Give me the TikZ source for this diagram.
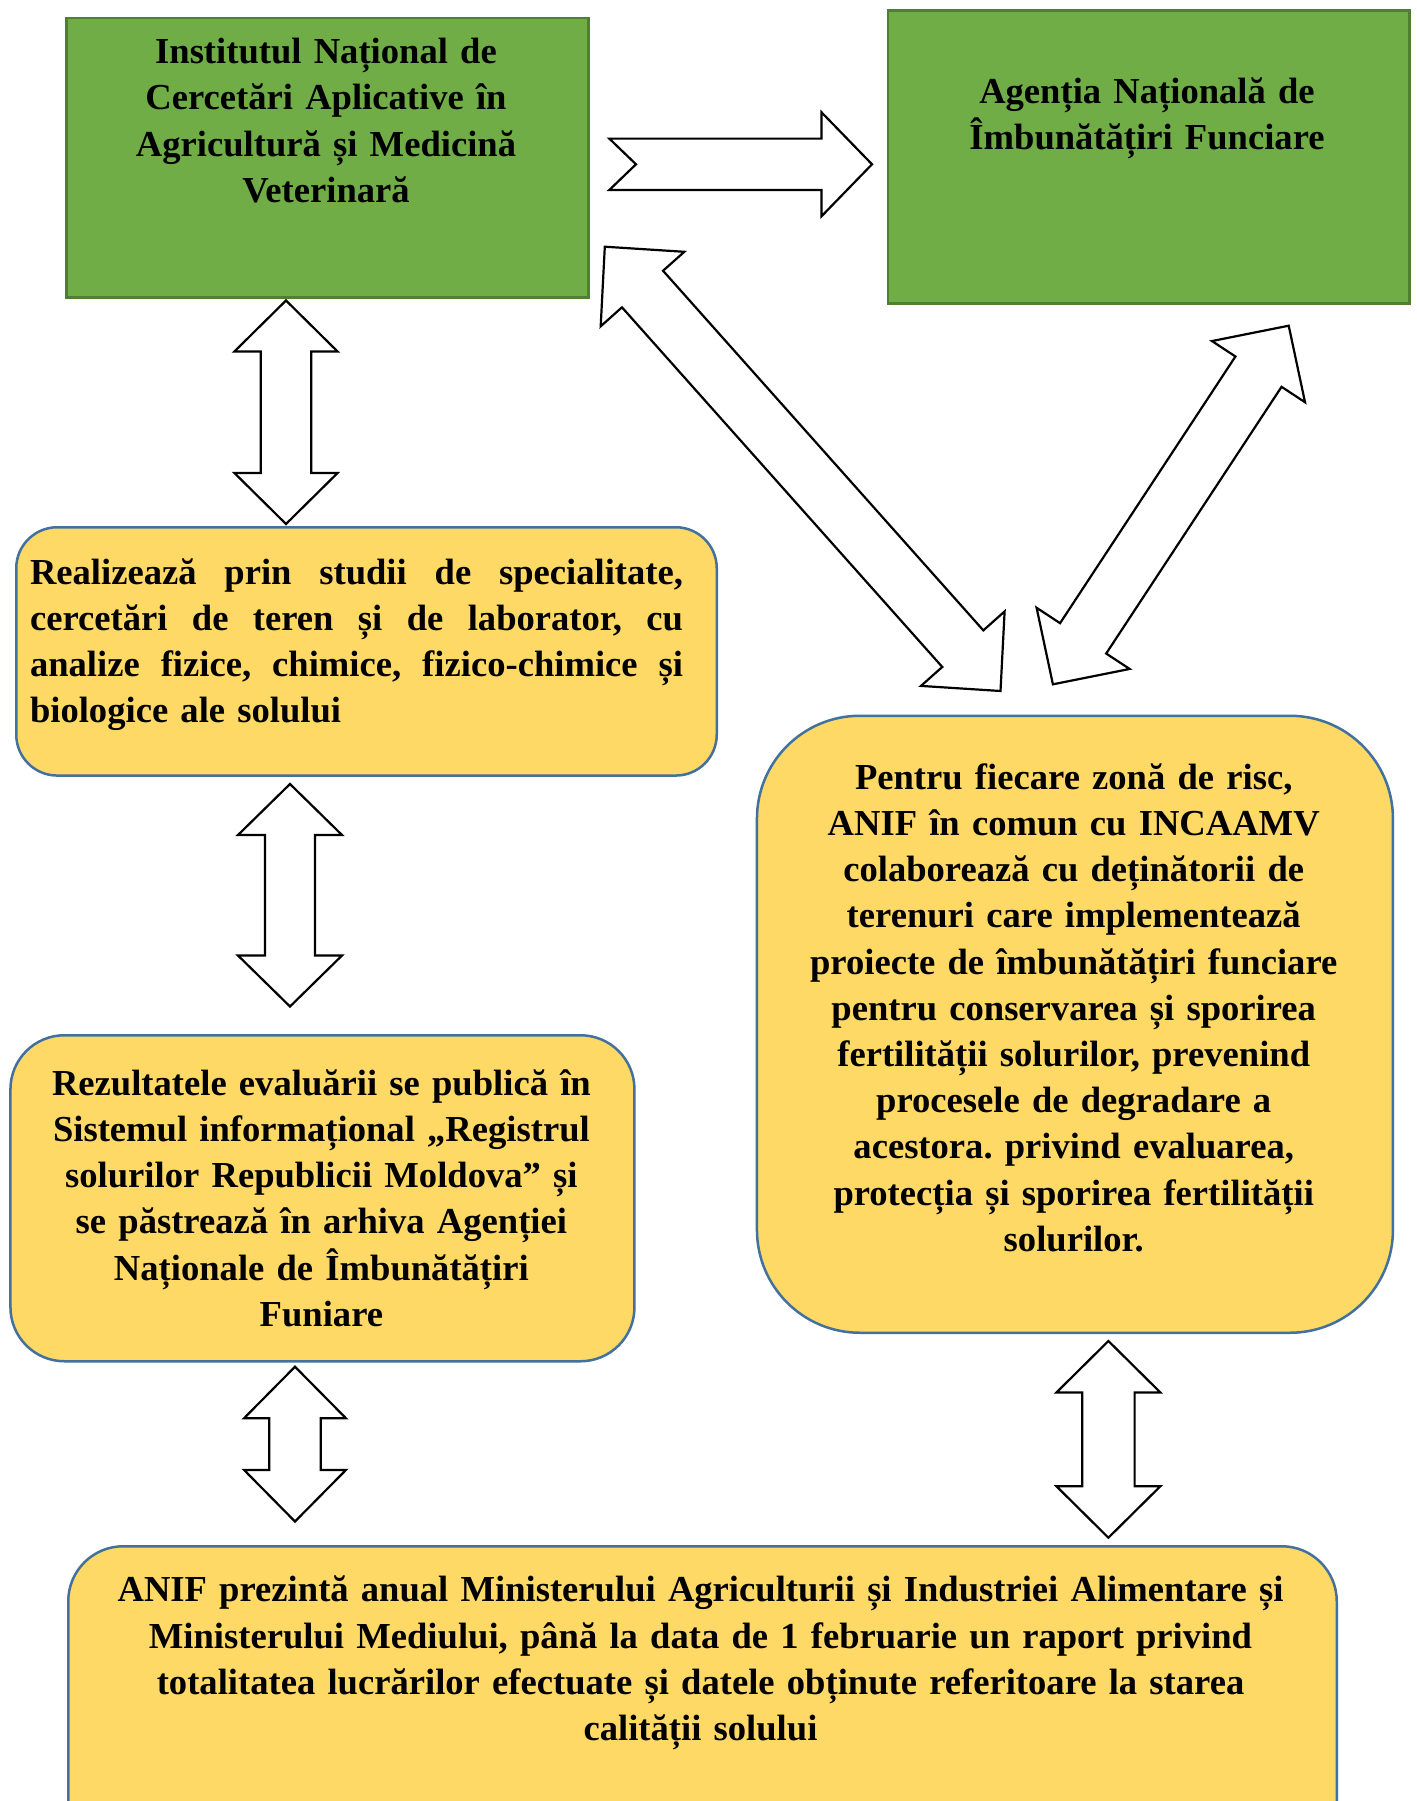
\documentclass[tikz,border=0pt]{standalone}
\usepackage{fontspec}
\setmainfont{Liberation Serif}
\usetikzlibrary{calc}
\setlength{\parindent}{0pt}
\frenchspacing
\definecolor{grfill}{HTML}{70AD47}
\definecolor{grline}{HTML}{507E32}
\definecolor{yefill}{HTML}{FFD966}
\definecolor{yeline}{HTML}{41719C}
\tikzset{
  txt/.style={font=\bfseries\fontsize{36.6}{46.2}\selectfont, inner sep=0pt, anchor=north, align=center},
  greenbox/.style={draw=grline, fill=grfill, line width=2.5pt, anchor=north west},
  yellowbox/.style={draw=yeline, fill=yefill, line width=2.5pt, anchor=north west},
  blockarrow/.style={draw=black, fill=white, line width=2.2pt, line join=miter},
}
\newcommand{\jline}[1]{\leavevmode\hbox to 653pt{#1}}
\newcommand{\dblarr}[5]{%
  \draw[blockarrow] let \p1=($(#2)-(#1)$), \n1={atan2(\y1,\x1)} in
    (#1) -- ($(#1)+(\n1:#3)+({\n1+90}:#4)$) -- ($(#1)+(\n1:#3)+({\n1+90}:#5)$)
    -- ($(#2)+({\n1+180}:#3)+({\n1+90}:#5)$) -- ($(#2)+({\n1+180}:#3)+({\n1+90}:#4)$)
    -- (#2) -- ($(#2)+({\n1+180}:#3)+({\n1-90}:#4)$) -- ($(#2)+({\n1+180}:#3)+({\n1-90}:#5)$)
    -- ($(#1)+(\n1:#3)+({\n1-90}:#5)$) -- ($(#1)+(\n1:#3)+({\n1-90}:#4)$) -- cycle;}
\begin{document}
\begin{tikzpicture}[x=1pt,y=-1pt]
\path[use as bounding box] (0,0) rectangle (1416,1801);
\clip (0,0) rectangle (1416,1801);
\fill[white] (0,0) rectangle (1416,1801);

% boxes
\node[greenbox, minimum width=522pt, minimum height=279pt] (g1) at (65,17) {};
\node[greenbox, minimum width=521.5pt, minimum height=293pt] (g2) at (886.5,9.3) {};
\node[yellowbox, rounded corners=41pt, minimum width=700.5pt, minimum height=248.3pt] (y1) at (15,526) {};
\node[yellowbox, rounded corners=54pt, minimum width=624pt, minimum height=326pt] (y2) at (9.2,1034) {};
\node[yellowbox, rounded corners=103pt, minimum width=636pt, minimum height=617pt] (y3) at (755.7,714.5) {};
\node[yellowbox, rounded corners=55pt, minimum width=1268.5pt, minimum height=330pt] (y4) at (67,1545) {};

% texts
\node[txt, text width=520pt] (g1t) at (326,28.5) {\rule{0pt}{35pt}Institutul Național de\\Cercetări Aplicative în\\Agricultură și Medicină\\Veterinară};
\node[txt, text width=500pt] (g2t) at (1147,68.3) {\rule{0pt}{35pt}Agenția Națională de\\Îmbunătățiri Funciare};
\node[txt, text width=653pt, align=left, anchor=north west] (y1t) at (29.8,549) {\rule{0pt}{35pt}\jline{Realizează\hfill prin\hfill studii\hfill de\hfill specialitate,}\\\jline{cercetări\hfill de\hfill teren\hfill și\hfill de\hfill laborator,\hfill cu}\\\jline{analize\hfill fizice,\hfill chimice,\hfill fizico-chimice\hfill și}\\biologice ale solului};
\node[txt, text width=610pt] (y2t) at (321.4,1060) {\rule{0pt}{35pt}Rezultatele evaluării se publică în\\Sistemul informațional „Registrul\\solurilor Republicii Moldova” și\\se păstrează în arhiva Agenției\\Naționale de Îmbunătățiri\\Funiare};
\node[txt, text width=620pt] (y3t) at (1073.7,754) {\rule{0pt}{35pt}Pentru fiecare zonă de risc,\\ANIF în comun cu INCAAMV\\colaborează cu deținătorii de\\terenuri care implementează\\proiecte de îmbunătățiri funciare\\pentru conservarea și sporirea\\fertilității solurilor, prevenind\\procesele de degradare a\\acestora. privind evaluarea,\\protecția și sporirea fertilității\\solurilor.};
\node[txt, text width=1260pt] (y4t) at (700.5,1566.7) {\rule{0pt}{35pt}ANIF prezintă anual Ministerului Agriculturii și Industriei Alimentare și\\Ministerului Mediului, până la data de 1 februarie un raport privind\\totalitatea lucrărilor efectuate și datele obținute referitoare la starea\\calității solului};

% arrow end points
\coordinate (na) at (609.3,164.3);
\coordinate (nb) at (872,164.3);
\coordinate (a1s) at (286,300.5);   \coordinate (a1e) at (286,524);
\coordinate (a2s) at (290,784);     \coordinate (a2e) at (290,1006.5);
\coordinate (a3s) at (295,1366.7);  \coordinate (a3e) at (295,1521.5);
\coordinate (a4s) at (1108.4,1341); \coordinate (a4e) at (1108.4,1537.7);
\coordinate (a5s) at (604.8,246.7); \coordinate (a5e) at (1000.5,691);
\coordinate (a6s) at (1288.7,325.7);\coordinate (a6e) at (1052.9,684.3);

% notched arrow g1 -> g2
\draw[blockarrow] ($(na)+(0,-25.7)$) -- ($(nb)+(-50.5,-25.7)$) -- ($(nb)+(-50.5,-52)$) -- (nb)
  -- ($(nb)+(-50.5,52)$) -- ($(nb)+(-50.5,25.7)$) -- ($(na)+(0,25.7)$) -- ($(na)+(26.7,0)$) -- cycle;

% double block arrows
\dblarr{a1s}{a1e}{51pt}{51.6pt}{25.2pt}
\dblarr{a2s}{a2e}{51pt}{52pt}{25pt}
\dblarr{a3s}{a3e}{51.6pt}{51pt}{25.7pt}
\dblarr{a4s}{a4e}{51.5pt}{52pt}{26.2pt}
\dblarr{a5s}{a5e}{56.7pt}{56pt}{27.5pt}
\dblarr{a6s}{a6e}{55pt}{55.7pt}{27.6pt}
\end{tikzpicture}
\end{document}
